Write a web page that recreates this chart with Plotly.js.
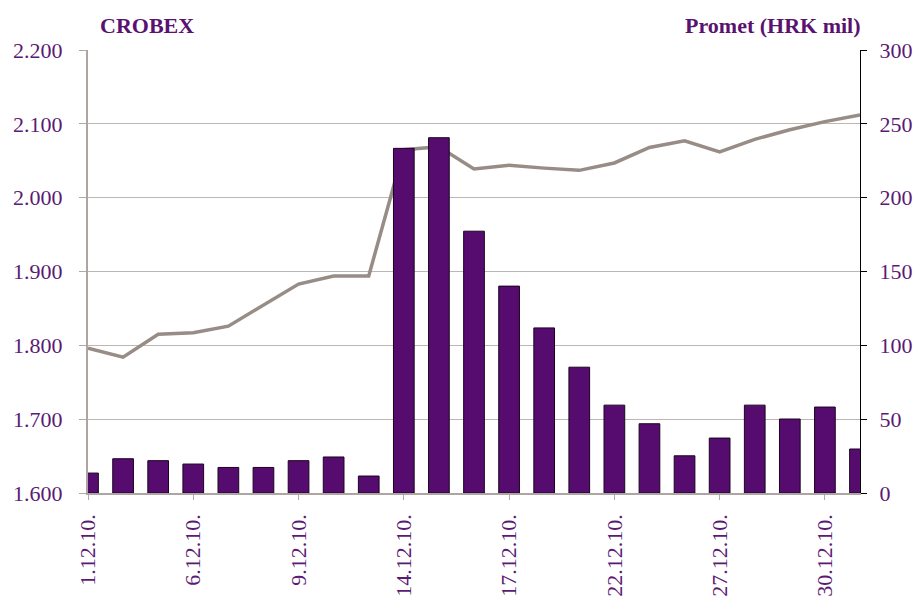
<!DOCTYPE html>
<html>
<head>
<meta charset="utf-8">
<script src="https://cdn.plot.ly/plotly-3.0.1.min.js"></script>
<style>html,body{margin:0;padding:0;background:#fff;}#chart{width:916px;height:601px;}</style>
</head>
<body>
<div id="chart"></div>
<script>
// Trading days, December 2010
var dates = ["1.12.10.","2.12.10.","3.12.10.","6.12.10.","7.12.10.","8.12.10.","9.12.10.","10.12.10.","13.12.10.","14.12.10.","15.12.10.","16.12.10.","17.12.10.","20.12.10.","21.12.10.","22.12.10.","23.12.10.","24.12.10.","27.12.10.","28.12.10.","29.12.10.","30.12.10.","31.12.10."];
// CROBEX index (left axis)
var crobex = [1796,1784,1815,1817,1826,1855,1883,1894,1894,2065,2069,2039,2044,2040,2037,2047,2068,2077,2062,2079,2092,2103,2112];
// Turnover, HRK mil (right axis)
var promet = [13.5,23.2,21.9,19.6,17.3,17.3,21.9,24.4,11.5,233.4,240.6,177.3,140.1,111.8,85.2,59.5,46.9,25.2,37.2,59.5,50.1,58.2,29.8];
// Labelled dates on x axis
var shownDates = ["1.12.10.","6.12.10.","9.12.10.","14.12.10.","17.12.10.","22.12.10.","27.12.10.","30.12.10."];
var leftTicks = [1600,1700,1800,1900,2000,2100,2200];
var rightTicks = [0,50,100,150,200,250,300];

var purple = "#5b1a74";
var fontFam = "Liberation Serif, serif";

var traces = [
  {
    type: "scatter", mode: "lines", name: "CROBEX",
    x: dates, y: crobex, yaxis: "y",
    line: {color: "#978c86", width: 3.5},
    hoverinfo: "skip"
  },
  {
    type: "bar", name: "Promet",
    x: dates, y: promet, yaxis: "y2",
    width: 0.59,
    marker: {color: "#560c6e", line: {color: "#1a0420", width: 1}},
    hoverinfo: "skip"
  }
];

var layout = {
  width: 916, height: 601,
  margin: {l: 88, r: 56, t: 50, b: 108},
  paper_bgcolor: "#ffffff", plot_bgcolor: "#ffffff",
  showlegend: false,
  separators: ",.",
  font: {family: fontFam, color: purple, size: 22},
  xaxis: {
    type: "category",
    categoryorder: "array", categoryarray: dates,
    range: [0, 22],
    tickmode: "array", tickvals: shownDates, ticktext: shownDates,
    tickangle: -90,
    ticks: "outside", ticklen: 5, tickcolor: "#b0a9a5", tickwidth: 1,
    ticklabelstandoff: 6,
    showline: true, linecolor: "#aca5a1", linewidth: 1.5,
    showgrid: false, zeroline: false,
    tickfont: {family: fontFam, size: 22, color: purple}
  },
  yaxis: {
    range: [1600, 2200],
    tickmode: "array", tickvals: leftTicks,
    tickformat: ",.0f",
    ticks: "outside", ticklen: 7, tickcolor: "#b0a9a5",
    ticklabelstandoff: 12,
    showline: true, linecolor: "#aca5a1", linewidth: 2,
    showgrid: true, gridcolor: "#bdb6b2", gridwidth: 1,
    zeroline: false,
    tickfont: {family: fontFam, size: 22, color: purple}
  },
  yaxis2: {
    overlaying: "y", side: "right",
    range: [0, 300],
    tickmode: "array", tickvals: rightTicks,
    ticks: "outside", ticklen: 6, tickcolor: "#000000",
    ticklabelstandoff: 8,
    showline: true, linecolor: "#000000", linewidth: 1,
    showgrid: false, zeroline: false,
    tickfont: {family: fontFam, size: 22, color: purple}
  },
  annotations: [
    {text: "<b>CROBEX</b>", xref: "paper", yref: "paper", x: 0, y: 1, xshift: 10, yshift: 10,
     xanchor: "left", yanchor: "bottom", showarrow: false,
     font: {family: fontFam, size: 22, color: "#5a1270"}},
    {text: "<b>Promet (HRK mil)</b>", xref: "paper", yref: "paper", x: 1, y: 1, xshift: 3, yshift: 10,
     xanchor: "right", yanchor: "bottom", showarrow: false,
     font: {family: fontFam, size: 22, color: "#5a1270"}}
  ]
};

Plotly.newPlot("chart", traces, layout, {staticPlot: true, displayModeBar: false});
</script>
</body>
</html>
